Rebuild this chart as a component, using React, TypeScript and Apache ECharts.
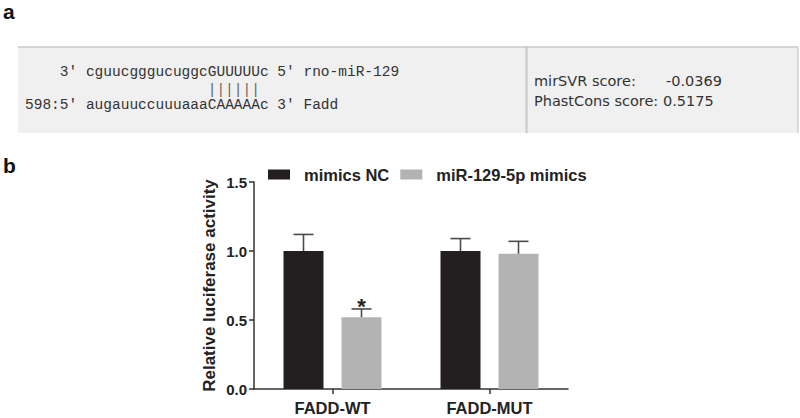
import React, { useEffect, useRef } from "react";
import * as echarts from "echarts";

// ---- data ----
const categories = ["FADD-WT", "FADD-MUT"];
const seriesNames = ["mimics NC", "miR-129-5p mimics"];
const mimicsNC = [1.0, 1.0];
const mimicsNCErr = [0.12, 0.09];
const mimics129 = [0.52, 0.98];
const mimics129Err = [0.06, 0.09];
const mimics129Sig = ["*", ""];
const yMin = 0;
const yMax = 1.5;
const yInterval = 0.5;

const seqLine1 = "3' cguucgggucuggcGUUUUUc 5' rno-miR-129";
const seqPairs = "||||||";
const seqLine2 = "598:5' augauuccuuuaaaCAAAAAc 3' Fadd";
const scoreLabels = ["mirSVR score:", "PhastCons score:"];
const scoreValues = ["-0.0369", "0.5175"];
const panelLabels = ["a", "b"];

// ---- styling constants ----
const BAR_W = 40;
const GAP_PX = 18;
const OFFSET = (BAR_W + GAP_PX) / 2;
const BLACK = "#231f20";
const GRAY = "#b3b3b3";
const ERR = "#4a4a4a";
const FONT = "'Liberation Sans', Arial, sans-serif";
const MONO = "'Liberation Mono', 'Courier New', monospace";
const MONO_SIZE = 14.5;
const CH = MONO_SIZE * 0.6;
const SCORE_FONT = "14.5px 'DejaVu Sans', Verdana, sans-serif";

function errSeries(values: number[], errs: number[], sig: string[] | null, offset: number) {
  return {
    type: "custom",
    silent: true,
    z: 5,
    data: values.map((v, i) => [i, v, errs[i]]),
    renderItem: (params: any, api: any) => {
      const idx = api.value(0);
      const v = api.value(1);
      const e = api.value(2);
      const base = api.coord([idx, v]);
      const top = api.coord([idx, v + e]);
      const x = base[0] + offset;
      const children: any[] = [
        {
          type: "line",
          shape: { x1: x, y1: base[1], x2: x, y2: top[1] },
          style: { stroke: ERR, lineWidth: 1.6 },
        },
        {
          type: "line",
          shape: { x1: x - 10, y1: top[1], x2: x + 10, y2: top[1] },
          style: { stroke: ERR, lineWidth: 1.6 },
        },
      ];
      const s = sig ? sig[params.dataIndex] : "";
      if (s) {
        children.push({
          type: "text",
          x: x,
          y: top[1] + 9,
          style: {
            text: s,
            fill: "#222",
            font: `bold 22px ${FONT}`,
            align: "center",
            verticalAlign: "bottom",
          },
        });
      }
      return { type: "group", children };
    },
  };
}

export default function App() {
  const ref = useRef<HTMLDivElement>(null);
  useEffect(() => {
    if (!ref.current) return;
    const chart = echarts.init(ref.current, null, { renderer: "svg" });
    const option: any = {
      animation: false,
      backgroundColor: "#ffffff",
      grid: { left: 254, right: 232, top: 182, bottom: 29, containLabel: false },
      legend: {
        data: seriesNames,
        left: 268,
        top: 166,
        padding: 0,
        itemWidth: 22,
        itemHeight: 10,
        itemGap: 11,
        icon: "rect",
        textStyle: {
          fontFamily: FONT,
          fontWeight: "bold",
          fontSize: 16.5,
          color: "#222",
          padding: [0, 0, 0, 9],
        },
      },
      xAxis: {
        type: "category",
        data: categories,
        boundaryGap: true,
        axisLine: { lineStyle: { color: "#333", width: 1.5 } },
        axisTick: { show: true, alignWithLabel: true, length: 5, lineStyle: { color: "#333", width: 1.5 } },
        axisLabel: {
          fontFamily: FONT,
          fontWeight: "bold",
          fontSize: 16.5,
          color: "#222",
          margin: 10,
        },
      },
      yAxis: {
        type: "value",
        min: yMin,
        max: yMax,
        interval: yInterval,
        name: "Relative luciferase activity",
        nameLocation: "middle",
        nameGap: 36,
        nameTextStyle: {
          fontFamily: FONT,
          fontWeight: "bold",
          fontSize: 17,
          color: "#222",
        },
        splitLine: { show: false },
        axisLine: { show: true, lineStyle: { color: "#333", width: 1.5 } },
        axisTick: { show: true, length: 5, lineStyle: { color: "#333", width: 1.5 } },
        axisLabel: {
          fontFamily: FONT,
          fontWeight: "bold",
          fontSize: 15,
          color: "#222",
          margin: 7,
          formatter: (v: number) => v.toFixed(1),
        },
      },
      series: [
        {
          name: seriesNames[0],
          type: "bar",
          data: mimicsNC,
          barWidth: BAR_W,
          barGap: `${(GAP_PX / BAR_W) * 100}%`,
          itemStyle: { color: BLACK },
        },
        {
          name: seriesNames[1],
          type: "bar",
          data: mimics129,
          barWidth: BAR_W,
          barGap: `${(GAP_PX / BAR_W) * 100}%`,
          itemStyle: { color: GRAY },
        },
        errSeries(mimicsNC, mimicsNCErr, null, -OFFSET),
        errSeries(mimics129, mimics129Err, mimics129Sig, OFFSET),
      ],
      graphic: [
        {
          type: "text",
          left: 3,
          top: 1,
          style: { text: panelLabels[0], font: `bold 21px ${FONT}`, fill: "#111" },
        },
        {
          type: "text",
          left: 3,
          top: 155,
          style: { text: panelLabels[1], font: `bold 21px ${FONT}`, fill: "#111" },
        },
        {
          type: "rect",
          shape: { x: 18, y: 46, width: 780, height: 87 },
          style: { fill: "#f0f0f0" },
          z: -1,
        },
        {
          type: "line",
          shape: { x1: 18, y1: 47, x2: 798, y2: 47 },
          style: { stroke: "#d4d4d4", lineWidth: 2 },
        },
        {
          type: "line",
          shape: { x1: 526.5, y1: 47, x2: 526.5, y2: 133 },
          style: { stroke: "#c6c6c6", lineWidth: 2 },
        },
        {
          type: "line",
          shape: { x1: 798, y1: 47, x2: 798, y2: 133 },
          style: { stroke: "#d0d0d0", lineWidth: 1.5 },
        },
        {
          type: "text",
          x: 25 + 4 * CH,
          y: 72,
          style: { text: seqLine1, font: `${MONO_SIZE}px ${MONO}`, fill: "#333", verticalAlign: "middle" },
        },
        {
          type: "text",
          x: 25 + 21 * CH,
          y: 89.5,
          style: { text: seqPairs, font: `${MONO_SIZE}px ${MONO}`, fill: "#666", verticalAlign: "middle" },
        },
        {
          type: "text",
          x: 25,
          y: 105,
          style: { text: seqLine2, font: `${MONO_SIZE}px ${MONO}`, fill: "#333", verticalAlign: "middle" },
        },
        {
          type: "text",
          x: 534,
          y: 81,
          style: { text: scoreLabels[0], font: SCORE_FONT, fill: "#333", verticalAlign: "middle" },
        },
        {
          type: "text",
          x: 534,
          y: 101,
          style: { text: scoreLabels[1], font: SCORE_FONT, fill: "#333", verticalAlign: "middle" },
        },
        {
          type: "text",
          x: 666,
          y: 81,
          style: { text: scoreValues[0], font: SCORE_FONT, fill: "#333", verticalAlign: "middle" },
        },
        {
          type: "text",
          x: 663,
          y: 101,
          style: { text: scoreValues[1], font: SCORE_FONT, fill: "#333", verticalAlign: "middle" },
        },
      ],
    };
    chart.setOption(option);
    return () => chart.dispose();
  }, []);
  return (
    <div
      ref={ref}
      style={{ position: "fixed", left: 0, top: 0, width: 800, height: 418, background: "#fff" }}
    />
  );
}
